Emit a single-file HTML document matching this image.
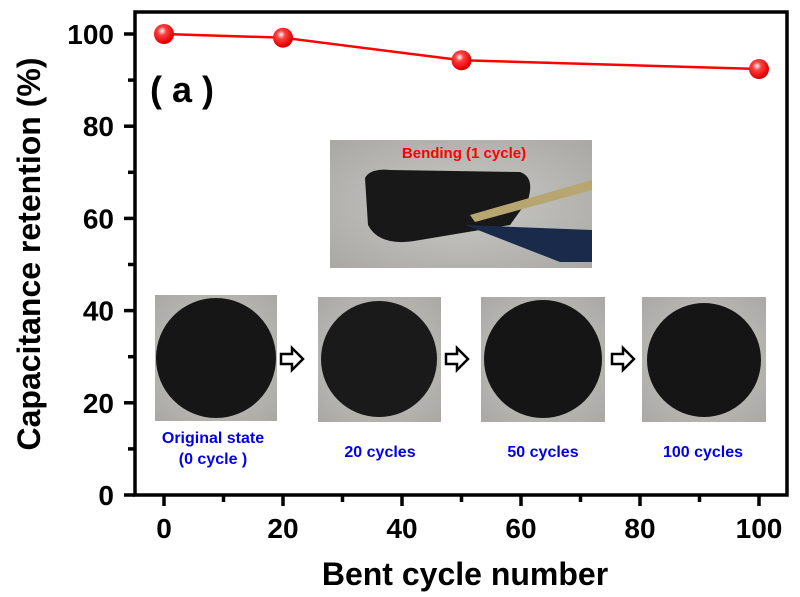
<!DOCTYPE html>
<html><head><meta charset="utf-8"><style>
body{margin:0;background:#fff;}
svg{display:block;font-family:"Liberation Sans",Arial,sans-serif;font-weight:bold;}
</style></head><body>
<svg width="800" height="597" viewBox="0 0 800 597">
<defs>
<radialGradient id="ball" cx="0.4" cy="0.35" r="0.6"><stop offset="0" stop-color="#fff"/><stop offset="0.35" stop-color="#ff4040"/><stop offset="1" stop-color="#e00000"/></radialGradient>
<radialGradient id="photo" cx="0.5" cy="0.5" r="0.7"><stop offset="0" stop-color="#c9c9c6"/><stop offset="1" stop-color="#a9a8a4"/></radialGradient>
</defs>
<g id="photos">
 <rect x="330" y="140" width="262" height="128" fill="url(#photo)"/>
 <path d="M365 178 Q370 168 390 170 L520 172 Q535 177 528 200 L510 225 L420 240 Q380 248 368 225 Z" fill="#181818"/>
 <path d="M470 215 L592 180 L592 190 L475 222 Z" fill="#b8a670"/>
 <path d="M465 225 L592 230 L592 262 L560 262 Z" fill="#1a2a4a"/>
 <text x="464" y="158" fill="#ff0000" font-size="15" text-anchor="middle">Bending (1 cycle)</text>
 <rect x="155" y="295" width="122" height="126" fill="url(#photo)"/>
 <circle cx="216" cy="358" r="60" fill="#161616"/>
 <rect x="318" y="297" width="123" height="125" fill="url(#photo)"/>
 <circle cx="379" cy="359" r="58" fill="#1a1a1a"/>
 <rect x="481" y="297" width="124" height="125" fill="url(#photo)"/>
 <circle cx="543" cy="359" r="59" fill="#151515"/>
 <rect x="642" y="297" width="124" height="125" fill="url(#photo)"/>
 <circle cx="704" cy="360" r="57" fill="#151515"/>
 <g fill="#fff" stroke="#000" stroke-width="2.5">
  <path d="M281 354 L292 354 L292 348 L303 359 L292 370 L292 364 L281 364 Z"/>
  <path d="M446 354 L457 354 L457 348 L468 359 L457 370 L457 364 L446 364 Z"/>
  <path d="M612 354 L623 354 L623 348 L634 359 L623 370 L623 364 L612 364 Z"/>
 </g>
 <g fill="#0000ee" font-size="16" text-anchor="middle">
  <text x="213" y="443">Original state</text>
  <text x="213" y="464">(0 cycle )</text>
  <text x="380" y="457">20 cycles</text>
  <text x="543" y="457">50 cycles</text>
  <text x="703" y="457">100 cycles</text>
 </g>
</g>
<rect x="135" y="12" width="652" height="483" fill="none" stroke="#000" stroke-width="3.5"/>
<g id="axes"></g>
<g id="series"></g>
<text x="150" y="102" font-size="36" fill="#000">( a )</text>
<text x="465" y="585" font-size="32" text-anchor="middle">Bent cycle number</text>
<text transform="translate(40,254) rotate(-90)" font-size="32" text-anchor="middle">Capacitance retention (%)</text>
</svg>
<script>
const xValues=[0,20,50,100];
const retention=[100,99.2,94.3,92.4];
const xTicks=[0,20,40,60,80,100];
const yTicks=[0,20,40,60,80,100];
const NS="http://www.w3.org/2000/svg";
function sx(v){return 164+v*5.95;}
function sy(v){return 495-v*4.61;}
function mk(t,a,p){const e=document.createElementNS(NS,t);for(const k in a)e.setAttribute(k,a[k]);p.appendChild(e);return e;}
const ax=document.getElementById('axes');
xTicks.forEach((v,i)=>{
 const l=mk('line',{x1:sx(v),x2:sx(v),y1:495,y2:506,stroke:'#000','stroke-width':3.5},ax);
 
 
 if(i<xTicks.length-1){const m=mk('line',{x1:sx(v+10),x2:sx(v+10),y1:495,y2:502,stroke:'#000','stroke-width':3.5},ax);
 
 }
 const t=mk('text',{x:sx(v),y:538,'font-size':28,'text-anchor':'middle'},ax);t.textContent=v;
 
 
});
yTicks.forEach((v,i)=>{
 const l=mk('line',{x1:124,x2:135,y1:sy(v),y2:sy(v),stroke:'#000','stroke-width':3.5},ax);
 
 
 if(i<yTicks.length-1){const m=mk('line',{x1:128,x2:135,y1:sy(v+10),y2:sy(v+10),stroke:'#000','stroke-width':3.5},ax);
 
 }
 const t=mk('text',{x:114,y:sy(v)+10,'font-size':28,'text-anchor':'end'},ax);t.textContent=v;
 
 
});
const se=document.getElementById('series');
const pl=mk('polyline',{points:xValues.map((x,i)=>sx(x)+','+sy(retention[i])).join(' '),fill:'none',stroke:'#ff0000','stroke-width':2.5},se);


xValues.forEach((x,i)=>{
 const c=mk('circle',{cx:sx(x),cy:sy(retention[i]),r:10,fill:'url(#ball)'},se);
 
 
});
</script>
</body></html>
